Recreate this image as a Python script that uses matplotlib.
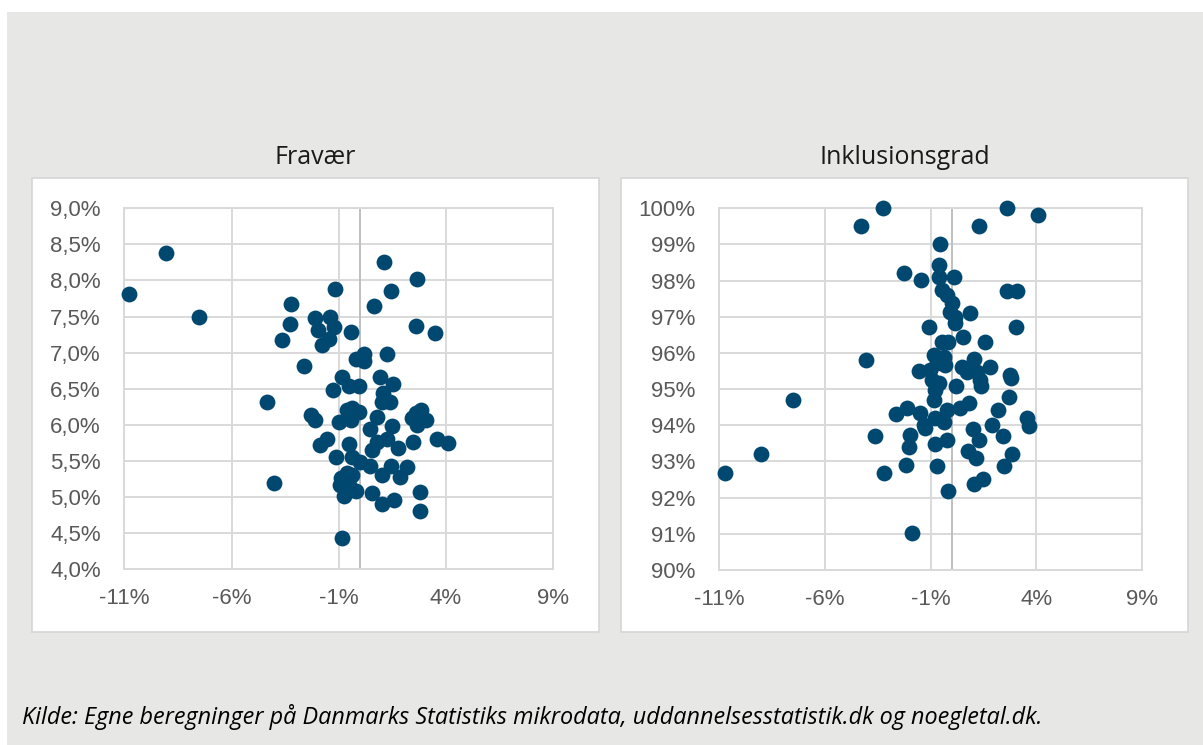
import matplotlib
matplotlib.use("Agg")
import matplotlib.pyplot as plt
from matplotlib.patches import Rectangle
from matplotlib.ticker import FuncFormatter

# Fravær: change (x, %) vs. absence rate (y, %)
fravaer_x = [-9.07, -10.77, -7.51, -3.24, -3.29, -3.65, -2.64, -4.33, -4.04,
             1.10, 2.64, -1.17, 1.42, 0.64, -2.09, -1.39, -1.96, -1.23, -1.47,
             -1.78, -0.42, 2.62, 3.50, -0.22, 0.17, 0.17, 1.26, -0.84, 0.90,
             -1.26, -0.53, -0.07, 1.54, 1.07, 1.02, 1.38, -2.28, -2.09, -0.61,
             -0.37, -0.07, -1.00, -0.45, 0.76, 0.45, 1.50, 2.43, 2.82, 3.05,
             2.66, 2.58, -1.86, -1.57, -0.51, 0.79, 1.26, 0.56, 1.76, 2.46,
             3.60, 4.09, -1.11, -0.37, 0.01, 0.45, 1.42, 2.16, 1.03, 1.85,
             -0.92, -0.61, -0.37, -0.95, -0.53, -0.22, -0.77, -0.45, 0.53,
             1.03, 1.57, 2.79, 2.79, -0.83]
fravaer_y = [8.385, 7.81, 7.50, 7.67, 7.40, 7.18, 6.82, 6.32, 5.19,
             8.25, 8.02, 7.88, 7.85, 7.65, 7.48, 7.50, 7.32, 7.35, 7.19,
             7.10, 7.29, 7.37, 7.27, 6.91, 6.98, 6.88, 6.98, 6.67, 6.67,
             6.48, 6.54, 6.54, 6.57, 6.44, 6.32, 6.32, 6.14, 6.07, 6.21,
             6.23, 6.18, 6.04, 6.07, 6.11, 5.95, 5.98, 6.09, 6.21, 6.07,
             6.00, 6.16, 5.72, 5.80, 5.74, 5.77, 5.81, 5.65, 5.68, 5.76,
             5.80, 5.75, 5.56, 5.56, 5.49, 5.43, 5.43, 5.41, 5.31, 5.28,
             5.27, 5.33, 5.31, 5.17, 5.17, 5.08, 5.01, 5.10, 5.05,
             4.91, 4.96, 5.07, 4.81, 4.43]

# Inklusionsgrad: change (x, %) vs. inclusion rate (y, %)
inkl_x = [-3.24, -4.29, -2.28, -4.04, -7.51, -9.01, -10.72, -2.62, -2.12,
          -3.63, -3.22, -2.15, -1.96, -2.04, -1.88,
          2.62, 4.08, 1.27, -0.54, -1.44, -0.59, -0.59, 0.12, -0.46, -0.23,
          0.01, -0.07, 0.17, 0.17, 0.88, 2.62, 3.06, 3.01, -1.09, 0.53,
          1.56, -0.46, -0.20, -0.86, -0.38, 1.04, -0.30, -1.57, -1.01, -0.70,
          0.49, 1.79, 0.72, 1.20, 2.77, 2.80, -0.93, -0.62, 0.22, 1.39,
          1.35, -0.78, -0.86, 2.69, 0.80, 0.41, 2.17, -0.23, -1.49, -0.78,
          -0.38, -1.33, -1.25, 3.53, 3.64, 1.91, 1.01, 1.27, 2.41, -0.23,
          -0.81, 0.75, 1.12, 2.85, 2.45, -0.70, 1.04, 1.48, -0.18]
inkl_y = [100.0, 99.52, 98.20, 95.81, 94.70, 93.21, 92.69, 94.30, 94.49,
          93.70, 92.69, 92.90, 93.73, 93.41, 91.01,
          100.02, 99.81, 99.52, 99.01, 98.02, 98.43, 98.11, 98.11, 97.74, 97.60,
          97.37, 97.14, 97.00, 96.82, 97.11, 97.71, 97.71, 96.73, 96.73, 96.43,
          96.31, 96.31, 96.31, 95.94, 95.90, 95.83, 95.67, 95.51, 95.53, 95.71,
          95.62, 95.60, 95.48, 95.48, 95.39, 95.30, 95.25, 95.16, 95.10, 95.10,
          95.25, 94.98, 94.70, 94.79, 94.63, 94.49, 94.41, 94.42, 94.33, 94.19,
          94.10, 94.01, 93.92, 94.21, 93.99, 94.01, 93.90, 93.59, 93.70, 93.59,
          93.48, 93.30, 93.11, 93.20, 92.88, 92.88, 92.38, 92.51, 92.19]

x_ticks = [-11, -6, -1, 4, 9]
fravaer_yticks = [4.0, 4.5, 5.0, 5.5, 6.0, 6.5, 7.0, 7.5, 8.0, 8.5, 9.0]
inkl_yticks = list(range(90, 101))

BG = "#e7e7e6"
DOT = "#00486f"
GRID = "#d9d9d9"
LABEL = "#595959"

fig = plt.figure(figsize=(12.03, 7.45), dpi=100)
fig.patch.set_facecolor("white")
fig.add_artist(Rectangle((7 / 1203, 0), 1, 1 - 12 / 745, transform=fig.transFigure,
                         facecolor=BG, edgecolor="none", zorder=-10))

# white chart panels
for left in (32 / 1203, 621 / 1203):
    fig.add_artist(Rectangle((left, 1 - 632 / 745), 567 / 1203, 454 / 745,
                             transform=fig.transFigure, facecolor="white",
                             edgecolor="#d6d6d6", lw=1.2, zorder=-5))

ax1 = fig.add_axes([124.3 / 1203, 1 - 569.3 / 745, 429 / 1203, 361 / 745])
ax2 = fig.add_axes([719 / 1203, 1 - 570 / 745, 423.3 / 1203, 361.7 / 745])


def style(ax, yticks, yfmt, title, title_x):
    ax.set_facecolor("none")
    ax.set_xlim(-11, 9)
    ax.set_ylim(yticks[0], yticks[-1])
    ax.set_xticks(x_ticks)
    ax.set_yticks(yticks)
    ax.xaxis.set_major_formatter(FuncFormatter(lambda v, p: f"{v:.0f}%"))
    ax.yaxis.set_major_formatter(FuncFormatter(yfmt))
    ax.grid(True, color=GRID, lw=1.4, zorder=0)
    ax.set_axisbelow(True)
    for s in ax.spines.values():
        s.set_color(GRID)
        s.set_linewidth(1.4)
    ax.axvline(0, color="#bfbfbf", lw=1.4, zorder=1)
    ax.tick_params(length=0, labelsize=16, labelcolor=LABEL)
    ax.tick_params(axis="y", pad=17)
    ax.tick_params(axis="x", pad=13.5)
    for lab in ax.get_xticklabels() + ax.get_yticklabels():
        lab.set_family("Liberation Sans")
    fig.text(title_x, 1 - 158 / 745, title, ha="center", va="center",
             fontsize=18, family="Open Sans", color="#1a1a1a")


style(ax1, fravaer_yticks, lambda v, p: f"{v:.1f}%".replace(".", ","),
      "Fravær", 315.5 / 1203)
style(ax2, inkl_yticks, lambda v, p: f"{v:.0f}%", "Inklusionsgrad", 904.5 / 1203)

ax1.scatter(fravaer_x, fravaer_y, s=130, color=DOT, linewidths=0, zorder=3,
            clip_on=False)
ax2.scatter(inkl_x, inkl_y, s=130, color=DOT, linewidths=0, zorder=3,
            clip_on=False)

fig.text(22 / 1203, 1 - 717 / 745,
         "Kilde: Egne beregninger på Danmarks Statistiks mikrodata, "
         "uddannelsesstatistik.dk og noegletal.dk.",
         ha="left", va="center", fontsize=16.8, style="italic", family="Open Sans",
         color="black")

fig.savefig("out.png", dpi=100, facecolor=fig.get_facecolor())
